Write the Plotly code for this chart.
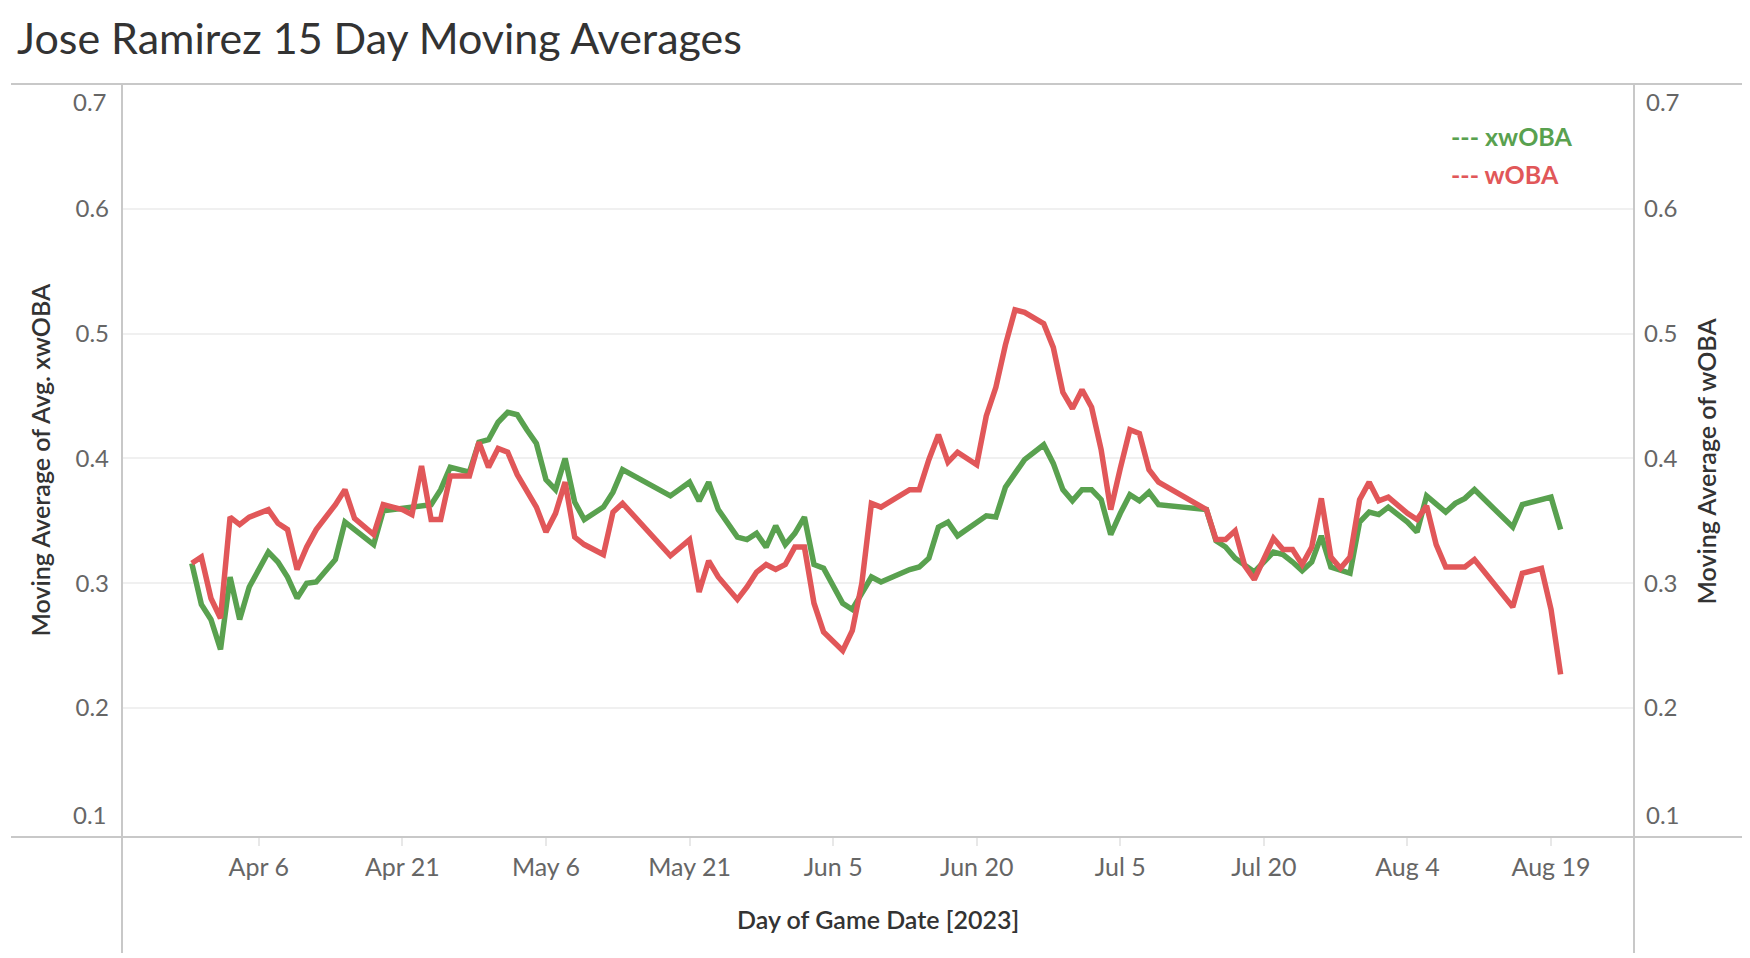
import plotly.graph_objects as go

dates = [
    "2023-03-30", "2023-03-31", "2023-04-01", "2023-04-02", "2023-04-03", "2023-04-04", "2023-04-05",
    "2023-04-07", "2023-04-08", "2023-04-09", "2023-04-10", "2023-04-11", "2023-04-12",
    "2023-04-14", "2023-04-15", "2023-04-16", "2023-04-18", "2023-04-19", "2023-04-20",
    "2023-04-21", "2023-04-22", "2023-04-23", "2023-04-24", "2023-04-25", "2023-04-26",
    "2023-04-28", "2023-04-29", "2023-04-30", "2023-05-01", "2023-05-02", "2023-05-03",
    "2023-05-04", "2023-05-05", "2023-05-06", "2023-05-07", "2023-05-08", "2023-05-09",
    "2023-05-10", "2023-05-12", "2023-05-13", "2023-05-14", "2023-05-19", "2023-05-21",
    "2023-05-22", "2023-05-23", "2023-05-24", "2023-05-26", "2023-05-27", "2023-05-28",
    "2023-05-29", "2023-05-30", "2023-05-31", "2023-06-01", "2023-06-02", "2023-06-03",
    "2023-06-04", "2023-06-06", "2023-06-07", "2023-06-08", "2023-06-09", "2023-06-10",
    "2023-06-13", "2023-06-14", "2023-06-15", "2023-06-16", "2023-06-17", "2023-06-18",
    "2023-06-20", "2023-06-21", "2023-06-22", "2023-06-23", "2023-06-24", "2023-06-25",
    "2023-06-27", "2023-06-28", "2023-06-29", "2023-06-30", "2023-07-01", "2023-07-02",
    "2023-07-03", "2023-07-04", "2023-07-05", "2023-07-06", "2023-07-07", "2023-07-08",
    "2023-07-09", "2023-07-14", "2023-07-15", "2023-07-16", "2023-07-17", "2023-07-18",
    "2023-07-19", "2023-07-21", "2023-07-22", "2023-07-23", "2023-07-24", "2023-07-25",
    "2023-07-26", "2023-07-27", "2023-07-28", "2023-07-29", "2023-07-30", "2023-07-31",
    "2023-08-01", "2023-08-02", "2023-08-04", "2023-08-05", "2023-08-06", "2023-08-07",
    "2023-08-08", "2023-08-09", "2023-08-10", "2023-08-11", "2023-08-15", "2023-08-16",
    "2023-08-18", "2023-08-19", "2023-08-20",
]

xwoba = [
    0.316, 0.283, 0.271, 0.247, 0.305, 0.271, 0.297,
    0.325, 0.317, 0.305, 0.288, 0.300, 0.301,
    0.319, 0.349, 0.343, 0.331, 0.358, 0.359,
    0.360, 0.361, 0.362, 0.363, 0.375, 0.393,
    0.389, 0.413, 0.415, 0.429, 0.437, 0.435,
    0.423, 0.412, 0.383, 0.375, 0.400, 0.365,
    0.351, 0.361, 0.373, 0.391, 0.370, 0.381,
    0.366, 0.381, 0.359, 0.337, 0.335, 0.340,
    0.329, 0.346, 0.331, 0.340, 0.353, 0.315,
    0.312, 0.284, 0.279, 0.292, 0.305, 0.301,
    0.311, 0.313, 0.320, 0.345, 0.349, 0.338,
    0.348, 0.354, 0.353, 0.377, 0.388, 0.399,
    0.411, 0.396, 0.375, 0.366, 0.375, 0.375,
    0.367, 0.339, 0.356, 0.371, 0.366, 0.373,
    0.363, 0.359, 0.334, 0.329, 0.320, 0.315,
    0.309, 0.325, 0.323, 0.317, 0.310, 0.317,
    0.338, 0.313, 0.311, 0.308, 0.349, 0.357,
    0.355, 0.361, 0.349, 0.341, 0.370, 0.364,
    0.357, 0.364, 0.368, 0.375, 0.345, 0.363,
    0.367, 0.369, 0.343,
]

woba = [
    0.316, 0.321, 0.288, 0.272, 0.353, 0.347, 0.353,
    0.359, 0.348, 0.343, 0.311, 0.329, 0.343,
    0.363, 0.375, 0.352, 0.339, 0.363, 0.361,
    0.359, 0.355, 0.394, 0.351, 0.351, 0.386,
    0.386, 0.413, 0.393, 0.408, 0.405, 0.387,
    0.375, 0.361, 0.341, 0.356, 0.381, 0.337,
    0.331, 0.323, 0.357, 0.364, 0.322, 0.335,
    0.293, 0.318, 0.305, 0.287, 0.297, 0.309,
    0.315, 0.311, 0.315, 0.329, 0.329, 0.284,
    0.261, 0.246, 0.262, 0.300, 0.364, 0.361,
    0.375, 0.375, 0.399, 0.419, 0.397, 0.405,
    0.395, 0.434, 0.457, 0.491, 0.519, 0.517,
    0.508, 0.489, 0.453, 0.440, 0.455, 0.441,
    0.407, 0.359, 0.392, 0.423, 0.420, 0.391,
    0.381, 0.359, 0.335, 0.335, 0.342, 0.314,
    0.303, 0.336, 0.327, 0.327, 0.315, 0.329,
    0.368, 0.321, 0.312, 0.321, 0.367, 0.381,
    0.366, 0.369, 0.356, 0.351, 0.362, 0.331,
    0.313, 0.313, 0.313, 0.319, 0.281, 0.308,
    0.312, 0.279, 0.227,
]

x_tick_dates = ["2023-04-06", "2023-04-21", "2023-05-06", "2023-05-21", "2023-06-05",
                "2023-06-20", "2023-07-05", "2023-07-20", "2023-08-04", "2023-08-19"]
x_tick_text = ["Apr 6", "Apr 21", "May 6", "May 21", "Jun 5",
               "Jun 20", "Jul 5", "Jul 20", "Aug 4", "Aug 19"]
y_tick_vals = [0.2, 0.3, 0.4, 0.5, 0.6]
y_tick_text = ["0.2", "0.3", "0.4", "0.5", "0.6"]
y_end_ticks = [0.7, 0.1]

GREEN = "#59a14f"
RED = "#e15759"
FONT = "Lato"
TICK_COLOR = "#666666"
BORDER = "#c8c8c8"
Y_RANGE = [0.0967, 0.7]

# plot-area geometry in figure pixels
L, T, PW, PH = 114, 76, 1512, 753
W, H = 1750, 958


def px(xpix):
    return (xpix - L) / PW


def py(ypix):
    return (T + PH - ypix) / PH


fig = go.Figure()
fig.add_trace(go.Scatter(x=dates, y=xwoba, mode="lines", name="xwOBA",
                         line=dict(color=GREEN, width=5.5), yaxis="y"))
fig.add_trace(go.Scatter(x=dates, y=woba, mode="lines", name="wOBA",
                         line=dict(color=RED, width=5.5), yaxis="y2"))

annotations = []
for v, shift in zip(y_end_ticks, [-17, 18]):
    for xr, xa, xoff in [(0, "right", -13), (1, "left", 10)]:
        annotations.append(dict(xref="paper", yref="y", x=xr, y=v, text=f"{v:.1f}",
                                showarrow=False, xanchor=xa, yanchor="middle",
                                xshift=xoff, yshift=shift,
                                font=dict(family=FONT, size=24, color=TICK_COLOR)))
annotations.append(dict(xref="paper", yref="paper", x=px(31), y=0.5,
                        text="Moving Average of Avg. xwOBA", textangle=-90, showarrow=False,
                        xanchor="center", yanchor="middle",
                        font=dict(family=FONT, size=25, color="#333333", weight=600)))
annotations.append(dict(xref="paper", yref="paper", x=px(1697), y=0.5,
                        text="Moving Average of wOBA", textangle=-90, showarrow=False,
                        xanchor="center", yanchor="middle",
                        font=dict(family=FONT, size=25, color="#333333", weight=600)))
annotations.append(dict(xref="paper", yref="paper", x=0.5, y=py(911),
                        text="Day of Game Date [2023]", showarrow=False,
                        xanchor="center", yanchor="middle",
                        font=dict(family=FONT, size=25, color="#333333", weight=600)))
annotations.append(dict(xref="paper", yref="paper", x=px(1441), y=py(128),
                        text="--- xwOBA", showarrow=False, xanchor="left", yanchor="middle",
                        font=dict(family=FONT, size=25, color=GREEN, weight=700)))
annotations.append(dict(xref="paper", yref="paper", x=px(1441), y=py(166),
                        text="--- wOBA", showarrow=False, xanchor="left", yanchor="middle",
                        font=dict(family=FONT, size=25, color=RED, weight=700)))

xl, xr_, yb = px(3), px(1736), py(945)
shapes = [
    dict(type="line", xref="paper", yref="paper", x0=xl, x1=xr_, y0=1, y1=1,
         line=dict(color=BORDER, width=2)),
    dict(type="line", xref="paper", yref="paper", x0=xl, x1=xr_, y0=0, y1=0,
         line=dict(color=BORDER, width=2)),
    dict(type="line", xref="paper", yref="paper", x0=0, x1=0, y0=yb, y1=1,
         line=dict(color=BORDER, width=2)),
    dict(type="line", xref="paper", yref="paper", x0=1, x1=1, y0=yb, y1=1,
         line=dict(color=BORDER, width=2)),
]

fig.update_layout(
    width=W, height=H,
    margin=dict(l=L, r=W - L - PW, t=T, b=H - T - PH, autoexpand=False),
    paper_bgcolor="white", plot_bgcolor="white",
    showlegend=False,
    title=dict(text="Jose Ramirez 15 Day Moving Averages", xref="container", yref="container",
               x=9 / W, y=1 - 31 / H, xanchor="left", yanchor="middle",
               font=dict(family=FONT, size=43, color="#333333")),
    xaxis=dict(type="date", range=["2023-03-22 17:00", "2023-08-27 16:00"],
               tickvals=x_tick_dates, ticktext=x_tick_text,
               showgrid=False, zeroline=False, showline=False,
               ticks="outside", ticklen=8, tickwidth=2, tickcolor="#e8e8e8",
               ticklabelstandoff=0,
               tickfont=dict(family=FONT, size=25, color=TICK_COLOR)),
    yaxis=dict(range=Y_RANGE, tickvals=y_tick_vals, ticktext=y_tick_text,
               showgrid=True, gridcolor="#f0f0f0", gridwidth=2,
               zeroline=False, showline=False, ticks="",
               ticklabelstandoff=12,
               tickfont=dict(family=FONT, size=24, color=TICK_COLOR)),
    yaxis2=dict(range=Y_RANGE, tickvals=y_tick_vals, ticktext=y_tick_text,
                overlaying="y", side="right", showgrid=False,
                zeroline=False, showline=False, ticks="",
                ticklabelstandoff=9,
                tickfont=dict(family=FONT, size=24, color=TICK_COLOR)),
    annotations=annotations,
    shapes=shapes,
)

fig.write_html("out.html")
